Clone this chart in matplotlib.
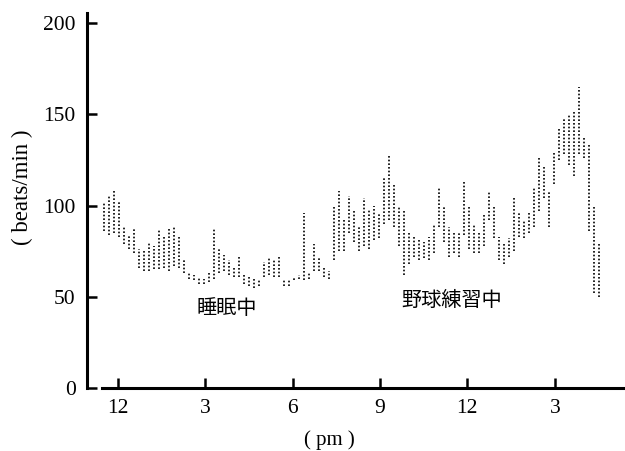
import numpy as np
import matplotlib
matplotlib.use('Agg')
import matplotlib.pyplot as plt

# 心拍数の記録 (各サンプルの最小値と最大値, beats/min)
hr_low = [86, 84, 85, 83, 79, 76, 74, 66, 64, 64,
          65, 65, 66, 64, 67, 66, 63, 60, 59, 57,
          57, 58, 60, 63, 64, 62, 61, 61, 57, 56,
          55, 56, 61, 62, 61, 61, 56, 56, 59, 60,
          59, 60, 64, 64, 61, 60, 70, 75, 75, 85,
          80, 75, 78, 76, 81, 82, 90, 92, 88, 78,
          62, 68, 72, 70, 71, 70, 74, 88, 80, 72,
          74, 72, 84, 76, 74, 74, 78, 92, 82, 70,
          68, 72, 75, 83, 82, 85, 88, 97, 104, 88,
          112, 125, 128, 122, 116, 128, 126, 86, 52, 50]
hr_high = [102, 106, 108, 102, 88, 84, 87, 76, 75, 80,
           78, 87, 84, 87, 88, 84, 70, 63, 62, 61,
           60, 63, 87, 76, 73, 70, 67, 73, 62, 62,
           61, 60, 69, 71, 70, 73, 60, 59, 61, 62,
           96, 63, 79, 72, 66, 64, 100, 108, 92, 105,
           98, 88, 104, 98, 100, 96, 115, 127, 112, 99,
           97, 85, 84, 82, 80, 83, 90, 110, 100, 88,
           86, 85, 114, 100, 90, 85, 96, 108, 100, 83,
           80, 82, 104, 96, 92, 97, 110, 126, 121, 108,
           130, 143, 148, 150, 152, 165, 138, 133, 100, 80]

# 時刻 (0 = 正午12時からの経過時間)
t_start, t_end = -0.47, 16.51
times = np.linspace(t_start, t_end, len(hr_low))

x_ticks = [0, 3, 6, 9, 12, 15]
x_labels = ['12', '3', '6', '9', '12', '3']
y_ticks = [0, 50, 100, 150, 200]

serif = ['Liberation Serif', 'Noto Sans CJK JP']
cjk = ['Noto Sans CJK JP', 'DejaVu Sans']

fig = plt.figure(figsize=(6.25, 4.51), dpi=100)
ax = fig.add_axes([0.139, 0.1397, 0.861, 0.8315])

ax.vlines(times, hr_low, hr_high, colors='black', linewidth=1.2,
          linestyles=(0, (1, 1.2)))

ax.set_xlim(-1.057, 17.41)
ax.set_ylim(0, 205.5)

ax.spines['top'].set_visible(False)
ax.spines['right'].set_visible(False)
ax.spines['left'].set_linewidth(2.2)
ax.spines['bottom'].set_linewidth(2.2)
ax.spines['bottom'].set_bounds(-0.54, 17.41)

ax.set_xticks(x_ticks)
ax.set_xticklabels(x_labels)
ax.set_yticks(y_ticks)
ax.tick_params(direction='in', length=7, width=1.8, labelsize=15.5)
ax.tick_params(axis='x', pad=8)
ax.tick_params(axis='y', pad=8)
for lab in ax.get_xticklabels() + ax.get_yticklabels():
    lab.set_family(serif)

ax.set_ylabel('( beats/min )', fontsize=16.5, family=serif)
ax.yaxis.set_label_coords(-0.10, 0.535)
ax.set_xlabel('( pm )', fontsize=15, family=serif, va='baseline')
ax.xaxis.set_label_coords(0.45, -0.152)

ax.text(3.75, 43.8, '睡眠中', fontsize=14.5, family=cjk, ha='center', va='center')
ax.text(11.47, 48.2, '野球練習中', fontsize=14.5, family=cjk, ha='center', va='center')

fig.savefig('out.png', dpi=100)
